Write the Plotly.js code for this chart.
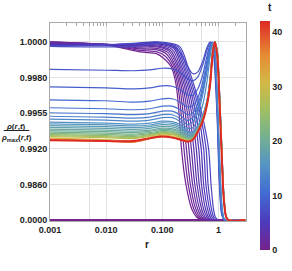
<!DOCTYPE html>
<html><head><meta charset="utf-8">
<script src="https://cdn.plot.ly/plotly-3.0.1.min.js"></script>
<style>html,body{margin:0;padding:0;background:#fff}#chart{width:292px;height:271px}</style>
</head><body><div id="chart"></div>
<script>
// ---------- axis ticks ----------
const yTickValues = [0, 0.986, 0.992, 0.9955, 0.998, 1.0];
const yTickLabels = ['0.0000', '0.9860', '0.9920', '0.9955', '0.9980', '1.0000'];
const xTickValues = [0.001, 0.01, 0.1, 1];
const xTickLabels = ['0.001', '0.010', '0.100', '1'];
const xGridExtra = [0.005, 0.05, 0.5];
const colorTicks = [0, 10, 20, 30, 40];
const tMin = 0, tMax = 42;

// ---------- t = 0 profile ----------
const tZero = 0;
const rZero = [0.001, 3];
const rhoZero = [0, 0];

// ---------- early profiles (inner blob expanding) ----------
const tEarly = [0.5, 1, 1.5, 2, 2.5, 3, 3.5, 4, 4.5, 5, 5.5, 6];
const rEarly = [
 [0.001,0.01,0.04,0.08,0.1041,0.1438,0.1760,0.1987,0.2198,0.2637,0.3360,0.4112,0.5033],
 [0.001,0.01,0.04,0.08,0.1106,0.1528,0.1878,0.2163,0.2432,0.2894,0.3643,0.4405,0.5347],
 [0.001,0.01,0.04,0.08,0.1175,0.1631,0.2011,0.2355,0.2691,0.3162,0.3949,0.4736,0.5681],
 [0.001,0.01,0.04,0.08,0.1249,0.1732,0.2145,0.2573,0.2977,0.3471,0.4282,0.5074,0.6036],
 [0.001,0.01,0.04,0.08,0.1327,0.1848,0.2289,0.2802,0.3293,0.3793,0.4642,0.5434,0.6413],
 [0.001,0.01,0.04,0.08,0.1409,0.1963,0.2452,0.3049,0.3643,0.4162,0.5033,0.5820,0.6813],
 [0.001,0.01,0.04,0.08,0.1498,0.2094,0.2616,0.3333,0.4030,0.4549,0.5456,0.6259,0.7239],
 [0.001,0.01,0.04,0.08,0.1592,0.2225,0.2802,0.3628,0.4458,0.4992,0.5915,0.6704,0.7691],
 [0.001,0.01,0.04,0.08,0.1691,0.2374,0.2989,0.3949,0.4932,0.5456,0.6413,0.7180,0.8171],
 [0.001,0.01,0.04,0.08,0.1796,0.2522,0.3188,0.4317,0.5456,0.5987,0.6952,0.7722,0.8682],
 [0.001,0.01,0.04,0.08,0.1909,0.2691,0.3415,0.4699,0.6036,0.6543,0.7537,0.8271,0.9224],
 [0.001,0.01,0.04,0.08,0.2028,0.2859,0.3643,0.5033,0.6677,0.7386,0.8171,0.8859,1.0]
];
const rhoEarly = [
 [1.0,0.99983,0.99944,0.99933,0.99910,0.9986,0.9975,0.9955,0.992,0.986,0.3,0.08,0],
 [0.99999,0.99984,0.99952,0.99944,0.99922,0.9986,0.9975,0.9955,0.992,0.986,0.3,0.08,0],
 [0.99997,0.99985,0.99961,0.99955,0.99933,0.9986,0.9975,0.9955,0.992,0.986,0.3,0.08,0],
 [0.99994,0.99986,0.99966,0.99964,0.99941,0.9986,0.9975,0.9955,0.992,0.986,0.3,0.08,0],
 [0.99992,0.99986,0.99972,0.99972,0.99947,0.9986,0.9975,0.9955,0.992,0.986,0.3,0.08,0],
 [0.99989,0.99986,0.99978,0.99978,0.99952,0.9986,0.9975,0.9955,0.992,0.986,0.3,0.08,0],
 [0.99986,0.99986,0.99980,0.99983,0.99958,0.9986,0.9975,0.9955,0.992,0.986,0.3,0.08,0],
 [0.99983,0.99985,0.99983,0.99989,0.99964,0.9986,0.9975,0.9955,0.992,0.986,0.3,0.08,0],
 [0.99982,0.99985,0.99986,0.99993,0.99966,0.9986,0.9975,0.9955,0.992,0.986,0.3,0.08,0],
 [0.99980,0.99984,0.99989,0.99996,0.99969,0.9986,0.9975,0.9955,0.992,0.986,0.3,0.08,0],
 [0.99979,0.99984,0.99992,0.99998,0.99972,0.9986,0.9975,0.9955,0.992,0.986,0.3,0.08,0],
 [0.99978,0.99983,0.99994,1.0,0.99975,0.9986,0.9975,0.9955,0.992,0.986,0.3,0.08,0]
];

// ---------- later profiles (outer shell forms) ----------
const rLate = [0.001,0.01,0.03,0.06,0.1,0.15,0.21,0.28,0.35,0.43,0.52,0.62,0.71,0.79,0.86,0.95,1.05,1.15,1.27,1.45,3.0];
const tLate = [7, 8, 9, 10, 11, 12, 13, 14, 15, 16, 17, 18, 19, 20, 21, 22.5, 24, 26, 28, 31, 34, 38, 42];
const rhoLate = [
 [0.99975,0.99972,0.99975,0.99986,0.99994,0.99983,0.99938,0.99866,0.99821,0.99832,0.99888,0.99966,1.0,0.99966,0.99843,0.99486,0.847,0.130,0.006,0,0],
 [0.99846,0.99841,0.99838,0.99843,0.99852,0.99849,0.99827,0.99791,0.99777,0.99804,0.99866,0.99950,0.99995,0.99995,0.99888,0.99560,0.98616,0.185,0.011,0,0],
 [0.99735,0.99728,0.99721,0.99728,0.99742,0.99739,0.99714,0.99679,0.99676,0.99721,0.99810,0.99916,0.99983,0.99997,0.99916,0.99595,0.98683,0.212,0.014,0,0],
 [0.99644,0.99637,0.99627,0.99634,0.99651,0.99651,0.99627,0.99595,0.99602,0.99658,0.99763,0.99888,0.99972,0.99997,0.99933,0.99616,0.98750,0.240,0.019,0,0],
 [0.99588,0.99581,0.99574,0.99581,0.99599,0.99599,0.99574,0.99535,0.99553,0.99616,0.99728,0.99866,0.99961,0.99997,0.99944,0.99630,0.98818,0.268,0.019,0,0],
 [0.99553,0.99545,0.99535,0.99545,0.99564,0.99564,0.99530,0.99476,0.99506,0.99588,0.99700,0.99843,0.99950,0.99997,0.99950,0.99644,0.98885,0.323,0.025,0,0],
 [0.99520,0.99511,0.99501,0.99511,0.99535,0.99535,0.99496,0.99437,0.99467,0.99560,0.99672,0.99827,0.99938,0.99997,0.99955,0.99658,0.98986,0.378,0.028,0,0],
 [0.99491,0.99481,0.99471,0.99481,0.99506,0.99506,0.99467,0.99403,0.99408,0.99496,0.99602,0.99763,0.99916,0.99994,0.99972,0.99679,0.99086,0.461,0.030,0,0],
 [0.99462,0.99452,0.99442,0.99452,0.99471,0.99467,0.99437,0.99378,0.99369,0.99427,0.99525,0.99637,0.99791,0.99955,1.0,0.99955,0.99686,0.99212,0.571,0.033,0],
 [0.99445,0.99436,0.99425,0.99434,0.99455,0.99450,0.99420,0.99362,0.99356,0.99417,0.99515,0.99630,0.99788,0.99952,1.0,0.99952,0.99680,0.99200,0.557,0.033,0],
 [0.99427,0.99418,0.99408,0.99418,0.99437,0.99432,0.99403,0.99349,0.99344,0.99408,0.99506,0.99623,0.99784,0.99950,1.0,0.99950,0.99672,0.99187,0.543,0.033,0],
 [0.99410,0.99400,0.99391,0.99401,0.99420,0.99415,0.99386,0.99334,0.99334,0.99400,0.99498,0.99620,0.99779,0.99947,1.0,0.99947,0.99665,0.99170,0.530,0.030,0],
 [0.99393,0.99383,0.99374,0.99383,0.99403,0.99398,0.99369,0.99320,0.99325,0.99393,0.99491,0.99616,0.99774,0.99944,1.0,0.99944,0.99658,0.99153,0.516,0.028,0],
 [0.99378,0.99369,0.99359,0.99371,0.99390,0.99386,0.99356,0.99310,0.99318,0.99388,0.99486,0.99614,0.99770,0.99942,1.0,0.99941,0.99651,0.99137,0.502,0.027,0],
 [0.99364,0.99354,0.99344,0.99359,0.99378,0.99374,0.99344,0.99300,0.99310,0.99383,0.99481,0.99613,0.99767,0.99941,1.0,0.99938,0.99644,0.99120,0.488,0.025,0],
 [0.99351,0.99341,0.99332,0.99349,0.99368,0.99364,0.99334,0.99295,0.99305,0.99380,0.99478,0.99611,0.99763,0.99940,1.0,0.99935,0.99637,0.99111,0.474,0.025,0],
 [0.99339,0.99329,0.99320,0.99339,0.99359,0.99354,0.99325,0.99290,0.99300,0.99378,0.99476,0.99609,0.99760,0.99938,1.0,0.99933,0.99630,0.99103,0.461,0.025,0],
 [0.99330,0.99320,0.99310,0.99332,0.99351,0.99346,0.99318,0.99285,0.99297,0.99376,0.99473,0.99607,0.99758,0.99937,1.0,0.99931,0.99626,0.99095,0.454,0.023,0],
 [0.99320,0.99310,0.99300,0.99325,0.99344,0.99339,0.99310,0.99280,0.99295,0.99374,0.99471,0.99606,0.99756,0.99936,1.0,0.99930,0.99623,0.99086,0.447,0.022,0],
 [0.99305,0.99290,0.99276,0.99310,0.99334,0.99325,0.99300,0.99276,0.99290,0.99374,0.99471,0.99606,0.99753,0.99936,1.0,0.99927,0.99616,0.99069,0.433,0.019,0],
 [0.99295,0.99280,0.99266,0.99300,0.99325,0.99315,0.99295,0.99271,0.99290,0.99369,0.99467,0.99602,0.99749,0.99933,1.0,0.99927,0.99613,0.99061,0.433,0.019,0],
 [0.99288,0.99276,0.99266,0.99300,0.99320,0.99310,0.99290,0.99271,0.99290,0.99369,0.99467,0.99602,0.99749,0.99933,1.0,0.99927,0.99609,0.99053,0.433,0.019,0],
 [0.99285,0.99276,0.99276,0.99305,0.99320,0.99310,0.99290,0.99271,0.99290,0.99369,0.99467,0.99602,0.99749,0.99933,1.0,0.99927,0.99609,0.99053,0.433,0.019,0]
];

// ---------- styling ----------
const colorStops = [
 [0, [118, 34, 140]], [0.12, [78, 58, 188]], [0.25, [66, 108, 210]], [0.37, [84, 148, 196]],
 [0.5, [118, 178, 142]], [0.62, [164, 192, 96]], [0.73, [210, 184, 70]], [0.85, [230, 140, 52]], [1, [222, 42, 36]]
];
const colorscale = colorStops.map(s => [s[0], 'rgb(' + s[1].join(',') + ')']);
function colorAt(t) {
  const f = Math.max(0, Math.min(1, (t - tMin) / (tMax - tMin)));
  for (let i = 0; i < colorStops.length - 1; i++) {
    const a = colorStops[i], b = colorStops[i + 1];
    if (f <= b[0]) {
      const u = (f - a[0]) / (b[0] - a[0]);
      return 'rgb(' + a[1].map((c, j) => Math.round(c + u * (b[1][j] - c))).join(',') + ')';
    }
  }
  return 'rgb(' + colorStops[colorStops.length - 1][1].join(',') + ')';
}
// piecewise axis scale: equally spaced ticks
function scaleY(v) {
  const k = yTickValues, n = k.length - 1;
  for (let i = 0; i < n; i++) if (v <= k[i + 1]) return i + (v - k[i]) / (k[i + 1] - k[i]);
  return n - 1 + (v - k[n - 1]) / (k[n] - k[n - 1]);
}
function lineTrace(r, rho, t, w) {
  return {type: 'scatter', mode: 'lines', x: r, y: rho.map(scaleY),
    line: {color: colorAt(t), width: w, shape: 'spline', smoothing: 0.8},
    hoverinfo: 'skip', showlegend: false};
}

const traces = [];
traces.push(lineTrace(rZero, rhoZero, tZero, 2));
tEarly.forEach((t, i) => traces.push(lineTrace(rEarly[i], rhoEarly[i], t, 1.2)));
tLate.forEach((t, i) => traces.push(lineTrace(rLate, rhoLate[i], t, t === tMax ? 2 : 1.2)));

// colorbar carrier
traces.push({type: 'scatter', mode: 'markers', x: [0.001], y: [-5], xaxis: 'x2',
  marker: {color: [tMin], cmin: tMin, cmax: tMax, colorscale: colorscale, size: 1, opacity: 0,
    showscale: true,
    colorbar: {thickness: 10, thicknessmode: 'pixels', len: 229, lenmode: 'pixels',
      x: 1.0704, xanchor: 'left', xpad: 0, y: 0.4318, yanchor: 'middle', ypad: 0,
      outlinewidth: 0, tickvals: colorTicks, ticks: '',
      tickfont: {family: '"Liberation Sans", Arial, sans-serif', size: 9, color: '#222', weight: 'bold'}}},
  hoverinfo: 'skip', showlegend: false});

const fontB = {family: '"Liberation Sans", Arial, sans-serif', size: 9, color: '#222', weight: 'bold'};
const xr = [-3, 0.491];
const minorTop = [];
[0.001, 0.01, 0.1, 1].forEach(d => { for (let m = 1; m <= 9; m++) minorTop.push(d * m); });

const layout = {
  width: 292, height: 271,
  margin: {l: 50, r: 43, t: 23, b: 50},
  paper_bgcolor: '#fff', plot_bgcolor: '#fff',
  font: {family: '"Liberation Sans", Arial, sans-serif', size: 9, color: '#222'},
  xaxis: {type: 'log', range: xr, tickmode: 'array', tickvals: xTickValues, ticktext: xTickLabels,
    tickfont: fontB, ticks: '', showgrid: true, gridcolor: '#e2e2e2', gridwidth: 1.2,
    minor: {tickmode: 'array', tickvals: xGridExtra, showgrid: true, gridcolor: '#e2e2e2', gridwidth: 1.2, ticks: ''},
    showline: true, mirror: true, linecolor: '#a8a8a8', linewidth: 1, zeroline: false},
  xaxis2: {type: 'log', range: xr, overlaying: 'x', side: 'top', tickmode: 'array', tickvals: minorTop,
    ticks: 'inside', ticklen: 3, tickcolor: '#a8a8a8', tickwidth: 1, showticklabels: false, showgrid: false, zeroline: false},
  yaxis: {range: [-0.025, 5.53], tickmode: 'array', tickvals: yTickValues.map(scaleY), ticktext: yTickLabels,
    tickfont: fontB, ticks: '', showgrid: true, gridcolor: '#e2e2e2', gridwidth: 1.2,
    showline: true, mirror: true, linecolor: '#a8a8a8', linewidth: 1, zeroline: false},
  annotations: [
    {xref: 'paper', yref: 'paper', x: -0.1734, y: 0.4773, xanchor: 'center', yanchor: 'middle', showarrow: false,
      text: '<i>ρ</i>(<i>r</i>,<i>t</i>)', font: {family: '"Liberation Sans", Arial, sans-serif', size: 8, color: '#222', weight: 'bold'}},
    {xref: 'paper', yref: 'paper', x: -0.1734, y: 0.4217, xanchor: 'center', yanchor: 'middle', showarrow: false,
      text: '<i>ρ</i><sub>max</sub>(<i>r</i>,<i>t</i>)', font: {family: '"Liberation Sans", Arial, sans-serif', size: 8, color: '#222', weight: 'bold'}},
    {xref: 'paper', yref: 'paper', x: 0.4925, y: -0.1212, xanchor: 'center', yanchor: 'middle', showarrow: false,
      text: 'r', font: {family: '"Liberation Sans", Arial, sans-serif', size: 10, color: '#222', weight: 'bold'}},
    {xref: 'paper', yref: 'paper', x: 1.1206, y: 1.0808, xanchor: 'center', yanchor: 'middle', showarrow: false,
      text: 't', font: {family: '"Liberation Sans", Arial, sans-serif', size: 10, color: '#222', weight: 'bold'}}
  ],
  shapes: [
    {type: 'line', xref: 'paper', yref: 'paper', x0: -0.2362, x1: -0.1055, y0: 0.4571, y1: 0.4571,
      line: {color: '#222', width: 1}}
  ]
};

Plotly.newPlot('chart', traces, layout, {displayModeBar: false, staticPlot: true});
</script></body></html>
